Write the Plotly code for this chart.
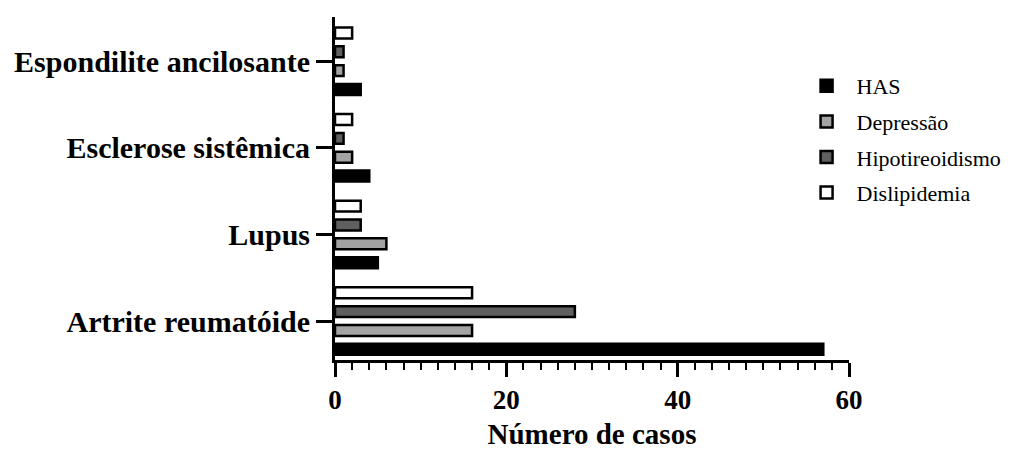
import plotly.graph_objects as go

categories = ["Artrite reumatóide", "Lupus", "Esclerose sistêmica", "Espondilite ancilosante"]
series_names = ["HAS", "Depressão", "Hipotireoidismo", "Dislipidemia"]
has_vals = [57, 5, 4, 3]
depressao_vals = [16, 6, 2, 1]
hipotireoidismo_vals = [28, 3, 1, 1]
dislipidemia_vals = [16, 3, 2, 2]
series_colors = ["#000000", "#a3a3a3", "#5f5f5f", "#ffffff"]
x_ticks = [0, 20, 40, 60]

values = [has_vals, depressao_vals, hipotireoidismo_vals, dislipidemia_vals]

fig = go.Figure()
for name, vals, col in zip(series_names, values, series_colors):
    fig.add_trace(go.Bar(
        y=categories, x=vals, name=name, orientation="h",
        marker=dict(color=col, line=dict(color="black", width=2.5)),
        legendgroup=name,
    ))

serif = "Liberation Serif, Times New Roman, serif"
# page body has an 8px default margin, so the figure is sized to fit the window
fig.update_layout(
    width=1008, height=442,
    margin=dict(l=327, r=167, t=9, b=90, autoexpand=False),
    paper_bgcolor="white", plot_bgcolor="white",
    barmode="group", bargap=0.13, bargroupgap=0.42,
    font=dict(family=serif, color="black"),
    legend=dict(
        x=0.898, xanchor="left", y=0.86, yanchor="top",
        font=dict(family=serif, size=22, color="black"),
        traceorder="grouped", tracegroupgap=4, itemwidth=50,
        bgcolor="rgba(0,0,0,0)",
    ),
    showlegend=True,
)
fig.update_xaxes(
    range=[0, 60], tickvals=x_ticks, ticktext=[str(v) for v in x_ticks],
    showline=True, linecolor="black", linewidth=3,
    ticks="outside", ticklen=14, tickwidth=2.5, tickcolor="black",
    minor=dict(dtick=2, ticks="outside", ticklen=7, tickwidth=2, tickcolor="black"),
    showgrid=False, zeroline=False, automargin=False,
    tickfont=dict(family=serif, size=27, color="black", weight="bold"),
    title=dict(text="<b>Número de casos</b>", font=dict(family=serif, size=29, color="black"), standoff=14),
)
fig.update_yaxes(
    range=[-0.45, 3.51], categoryorder="array", categoryarray=categories,
    showline=True, linecolor="black", linewidth=3,
    ticks="outside", ticklen=16, tickwidth=3, tickcolor="black",
    showgrid=False, zeroline=False, automargin=False,
    tickfont=dict(family=serif, size=30, color="black", weight="bold"),
)

fig.write_html("out.html")
